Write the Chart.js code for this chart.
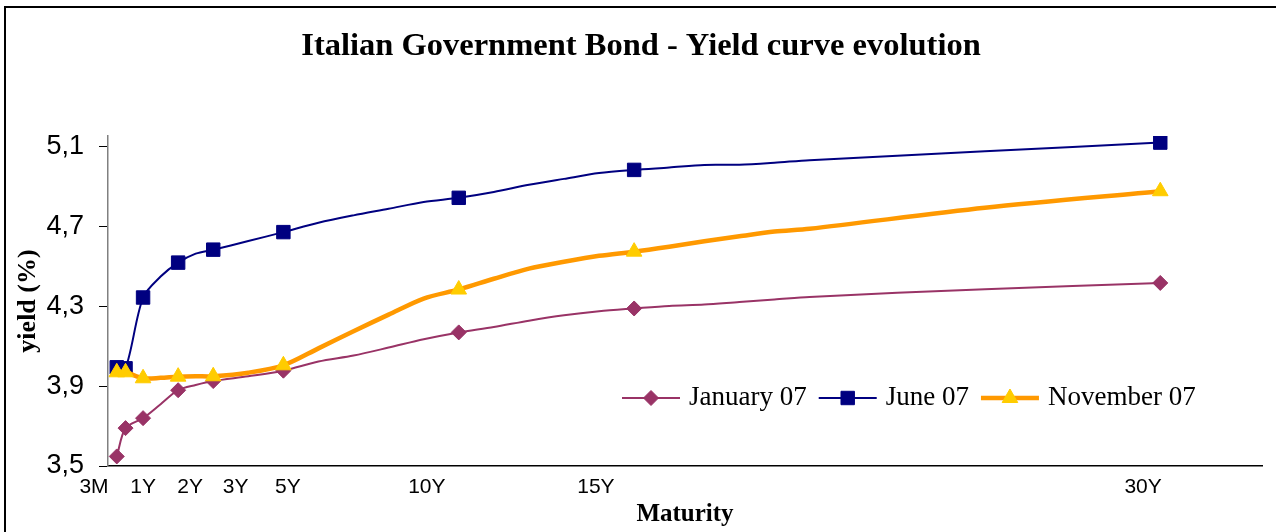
<!DOCTYPE html>
<html>
<head>
<meta charset="utf-8">
<title>Italian Government Bond - Yield curve evolution</title>
<script src="https://cdn.jsdelivr.net/npm/chart.js@4.4.1/dist/chart.umd.min.js"></script>
<style>
  html, body { margin: 0; padding: 0; background: #fff; }
  #wrap { width: 1276px; height: 532px; }
</style>
</head>
<body>
<div id="wrap"><canvas id="yieldChart" width="1276" height="532"></canvas></div>
<script>
// maturities in years
const maturities = [0.25, 0.5, 1, 1.5, 2, 2.5, 3, 4, 5, 6, 7, 8, 9, 10, 11, 12, 13, 14, 15, 16, 17, 18, 19, 20, 25, 30];
// only these maturities get a marker
const markedMaturities = [0.25, 0.5, 1, 2, 3, 5, 10, 15, 30];

// yields (%)
const january07 = [3.548, 3.69, 3.74, 3.81, 3.88, 3.906, 3.926, 3.95, 3.978, 4.024, 4.054, 4.094, 4.136, 4.17,
  4.197, 4.229, 4.256, 4.276, 4.29, 4.303, 4.31, 4.323, 4.335, 4.348, 4.387, 4.418];
const june07 = [3.995, 3.99, 4.345, 4.45, 4.52, 4.565, 4.585, 4.628, 4.673, 4.72, 4.757, 4.79, 4.824, 4.845,
  4.874, 4.91, 4.94, 4.969, 4.985, 4.997, 5.01, 5.011, 5.021, 5.034, 5.078, 5.122];
const november07 = [3.97, 3.97, 3.94, 3.942, 3.948, 3.95, 3.95, 3.968, 4.005, 4.09, 4.176, 4.259, 4.34, 4.385,
  4.439, 4.49, 4.524, 4.554, 4.575, 4.6, 4.627, 4.652, 4.676, 4.69, 4.795, 4.878];

const seriesNames = ["January 07", "June 07", "November 07"];

const yTicks = [3.5, 3.9, 4.3, 4.7, 5.1];
const xTickLabels = ["3M", "1Y", "2Y", "3Y", "5Y", "10Y", "15Y", "30Y"];
// where each maturity label sits along the axis (years)
const xTickAt = [-0.4, 1.0, 2.34, 3.64, 5.13, 9.09, 13.91, 29.51];

const SERIF = "'Liberation Serif', 'Times New Roman', serif";
const SANS = "'Liberation Sans', Arial, sans-serif";

function points(values) {
  return maturities.map((m, i) => ({ x: m, y: values[i] }));
}

function markerRadius(r) {
  return ctx => (ctx.raw && markedMaturities.includes(ctx.raw.x) ? r : 0);
}

const styles = [
  { line: "#993366", fill: "#993366", width: 2, shape: "rectRot", r: 7.5 },
  { line: "#000080", fill: "#000080", width: 2, shape: "rect", r: 9.5 },
  { line: "#FF9900", fill: "#FFCC00", width: 4.5, shape: "triangle", r: 9 }
];

const datasets = [january07, june07, november07].map((vals, i) => ({
  label: seriesNames[i],
  data: points(vals),
  borderColor: styles[i].line,
  borderWidth: styles[i].width,
  backgroundColor: styles[i].fill,
  pointStyle: styles[i].shape,
  pointBackgroundColor: styles[i].fill,
  pointBorderColor: styles[i].fill,
  pointBorderWidth: 1,
  pointRadius: markerRadius(styles[i].r),
  pointHoverRadius: markerRadius(styles[i].r),
  tension: 0.3,
  fill: false,
  order: 3 - i
}));

// white page with the frame line on the left and top
const frame = {
  id: "frame",
  beforeDraw(chart) {
    const c = chart.ctx;
    c.save();
    c.fillStyle = "#fff";
    c.fillRect(0, 0, chart.width, chart.height);
    c.restore();
  },
  afterDraw(chart) {
    const c = chart.ctx;
    c.save();
    c.strokeStyle = "#000";
    c.lineWidth = 2;
    c.strokeRect(5, 7, chart.width + 20, chart.height + 20);
    c.restore();
  }
};

// legend inside the plot: line sample with its marker, then the name
const curveLegend = {
  id: "curveLegend",
  afterDatasetsDraw(chart) {
    const c = chart.ctx;
    const y = 398;
    let x = 622;
    c.save();
    c.font = "27px " + SERIF;
    c.textBaseline = "middle";
    c.textAlign = "left";
    styles.forEach((s, i) => {
      c.strokeStyle = s.line;
      c.lineWidth = s.width;
      c.beginPath();
      c.moveTo(x, y);
      c.lineTo(x + 58, y);
      c.stroke();
      c.fillStyle = s.fill;
      c.strokeStyle = s.fill;
      c.lineWidth = 1;
      Chart.helpers.drawPoint(c, { pointStyle: s.shape, radius: s.r, rotation: 0, borderWidth: 1 }, x + 29, y);
      c.fillStyle = "#000";
      const tx = x + 67;
      c.fillText(seriesNames[i], tx, y);
      x = tx + c.measureText(seriesNames[i]).width + 12;
    });
    c.restore();
  }
};

new Chart(document.getElementById("yieldChart"), {
  type: "line",
  data: { datasets },
  options: {
    responsive: false,
    animation: false,
    layout: { padding: { left: 20, right: 14, top: 0, bottom: 0 } },
    plugins: {
      legend: { display: false },
      tooltip: { enabled: false },
      title: {
        display: true,
        text: "Italian Government Bond - Yield curve evolution",
        color: "#000",
        font: { family: SERIF, size: 32.5, weight: "bold" },
        padding: { top: 27, bottom: 70 }
      }
    },
    scales: {
      x: {
        type: "linear",
        min: 0,
        max: 32.9,
        afterBuildTicks: s => { s.ticks = xTickAt.map(v => ({ value: v })); },
        afterFit: s => { s.height = 66; },
        ticks: {
          autoSkip: false,
          maxRotation: 0,
          padding: 9,
          color: "#000",
          font: { family: SANS, size: 21 },
          callback: (v, i) => xTickLabels[i]
        },
        grid: { display: false, drawTicks: false },
        border: { color: "#000", width: 1.5 },
        title: {
          display: true,
          text: "Maturity",
          color: "#000",
          font: { family: SERIF, size: 25, weight: "bold" },
          padding: { top: 0, bottom: 2 }
        }
      },
      y: {
        min: 3.5,
        max: 5.155,
        afterBuildTicks: s => { s.ticks = yTicks.map(v => ({ value: v })); },
        afterFit: s => { s.width = 88; },
        ticks: {
          padding: 15,
          color: "#000",
          font: { family: SANS, size: 27 },
          callback: v => v.toFixed(1).replace(".", ",")
        },
        grid: { drawOnChartArea: false, tickLength: 9, color: "#000" },
        border: { color: "#808080", width: 1.5 },
        title: {
          display: true,
          text: "yield (%)",
          color: "#000",
          font: { family: SERIF, size: 26, weight: "bold" },
          padding: { top: -7, bottom: 0 }
        }
      }
    }
  },
  plugins: [frame, curveLegend]
});
</script>
</body>
</html>
